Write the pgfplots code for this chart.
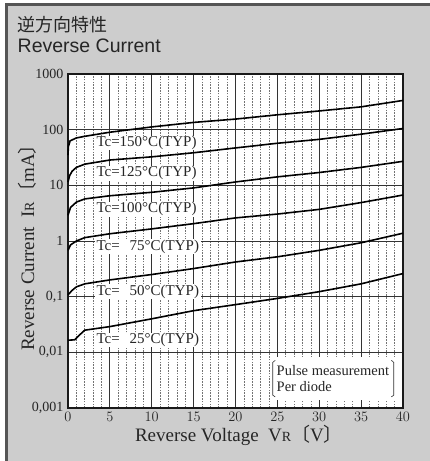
\documentclass[border=0pt]{standalone}
\usepackage{fontspec}
\usepackage{pgfplots}
\pgfplotsset{compat=1.18}
\setmainfont{Liberation Serif}
\newfontfamily\titlesans{Liberation Sans}
\newfontfamily\cjk{Noto Sans CJK JP}
\definecolor{bg}{RGB}{205,205,205}
\definecolor{frm}{RGB}{85,85,85}
\begin{document}
\begin{tikzpicture}[x=1pt,y=1pt]
\useasboundingbox (0,0) rectangle (430,461);
\fill[white] (0,0) rectangle (430,461);
\fill[bg] (6.5,0) rectangle (430,456.5);
\draw[frm,line width=2.2pt] (6.5,0) -- (6.5,456.5) -- (430,456.5);
\node[anchor=base west,inner sep=0pt,text=black!85] at (17,429) {\cjk\fontsize{18}{18}\selectfont 逆方向特性};
\node[anchor=base west,inner sep=0pt,text=black!85] at (17.5,408) {\titlesans\fontsize{19.5}{19.5}\selectfont Reverse Current};
\begin{axis}[
  at={(68pt,53pt)}, anchor=south west,
  scale only axis, width=335pt, height=334pt,
  xmin=0, xmax=40, ymin=0.001, ymax=1000,
  ymode=log,
  axis background/.style={fill=white},
  xtick={0,5,...,40},
  minor x tick num=4,
  ytick={0.001,0.01,0.1,1,10,100,1000},
  yticklabels={{0,001},{0,01},{0,1},1,10,100,1000},
  log basis y=10,
  grid=both,
  major grid style={solid,black!80,line width=0.9pt},
  minor grid style={black!55,line width=0.5pt,dash pattern=on 1.6pt off 1.2pt},
  major tick length=0pt, minor tick length=0pt,
  axis line style={black!90,line width=1.2pt},
  tick label style={font=\fontsize{14}{14}\selectfont, text=black!85},
  xticklabel style={yshift=-1pt},
  yticklabel style={xshift=-1pt},
  clip=false,
  axis on top=false,
]
\addplot[black,line width=1.6pt] coordinates {(0,35) (0.05,50) (0.25,63) (1,71) (2,76) (5,90) (10,112) (15,135) (20,155) (25,185) (30,217) (35,257) (40,335)};
\addplot[black,line width=1.6pt] coordinates {(0,11.5) (0.2,15) (0.5,18) (1,21) (2,24) (5,28.5) (10,32.5) (15,38.5) (20,47) (25,57) (30,67) (35,83) (40,105)};
\addplot[black,line width=1.6pt] coordinates {(0,2.9) (0.3,4.0) (1,5.0) (2,5.7) (5,6.5) (10,7.5) (15,9.0) (20,11.5) (25,14.2) (30,17) (35,21) (40,27)};
\addplot[black,line width=1.6pt] coordinates {(0,0.68) (0.3,0.85) (1,1.0) (2,1.15) (5,1.35) (10,1.65) (15,2.05) (20,2.6) (25,3.05) (30,3.7) (35,4.9) (40,6.7)};
\addplot[black,line width=1.6pt] coordinates {(0,0.108) (0.5,0.13) (1,0.15) (2,0.17) (5,0.2) (10,0.25) (15,0.32) (20,0.42) (25,0.52) (30,0.68) (35,0.93) (40,1.38)};
\addplot[black,line width=1.6pt] coordinates {(0,0.0165) (0.8,0.0168) (1.3,0.02) (2,0.025) (5,0.029) (10,0.04) (15,0.056) (20,0.072) (25,0.093) (30,0.123) (35,0.17) (40,0.26)};
\begin{scope}[every node/.style={fill=white,inner xsep=1.5pt,inner ysep=0.5pt,anchor=west,font=\fontsize{15}{15}\selectfont,text=black!85}]
\node at (axis cs:3.2,58) {Tc=150°C(TYP)};
\node at (axis cs:3.2,16.5) {Tc=125°C(TYP)};
\node at (axis cs:3.2,3.7) {Tc=100°C(TYP)};
\node at (axis cs:3.2,0.79) {Tc=\phantom{1}\,75°C(TYP)};
\node at (axis cs:3.2,0.123) {Tc=\phantom{1}\,50°C(TYP)};
\node at (axis cs:3.2,0.0166) {Tc=\phantom{1}\,25°C(TYP)};
\end{scope}
\fill[white] (axis cs:24.1,0.0083) rectangle (axis cs:39.3,0.0014);
\node[anchor=west,align=left,inner sep=0pt,font=\fontsize{14.5}{16.5}\selectfont,text=black!85] at (axis cs:24.9,0.0034) {Pulse measurement\\Per diode};
\draw[black!80,line width=0.6pt] (axis cs:24.75,0.0072) -- (axis cs:24.45,0.0066) -- (axis cs:24.45,0.0017) -- (axis cs:24.75,0.00158);
\draw[black!80,line width=0.6pt] (axis cs:38.6,0.0072) -- (axis cs:38.9,0.0066) -- (axis cs:38.9,0.0017) -- (axis cs:38.6,0.00158);
\end{axis}
\node[anchor=base,inner sep=0pt,text=black!85,font=\fontsize{19}{19}\selectfont] at (239,19.5) {Reverse Voltage\ \ V{\fontsize{14}{14}\selectfont R}{\cjk〔}V{\cjk〕}};
\node[anchor=center,rotate=90,inner sep=0pt,text=black!85,font=\fontsize{19}{19}\selectfont] at (27,218) {Reverse Current\ \ I{\fontsize{14}{14}\selectfont R}{\cjk〔}mA{\cjk〕}};
\end{tikzpicture}
\end{document}
